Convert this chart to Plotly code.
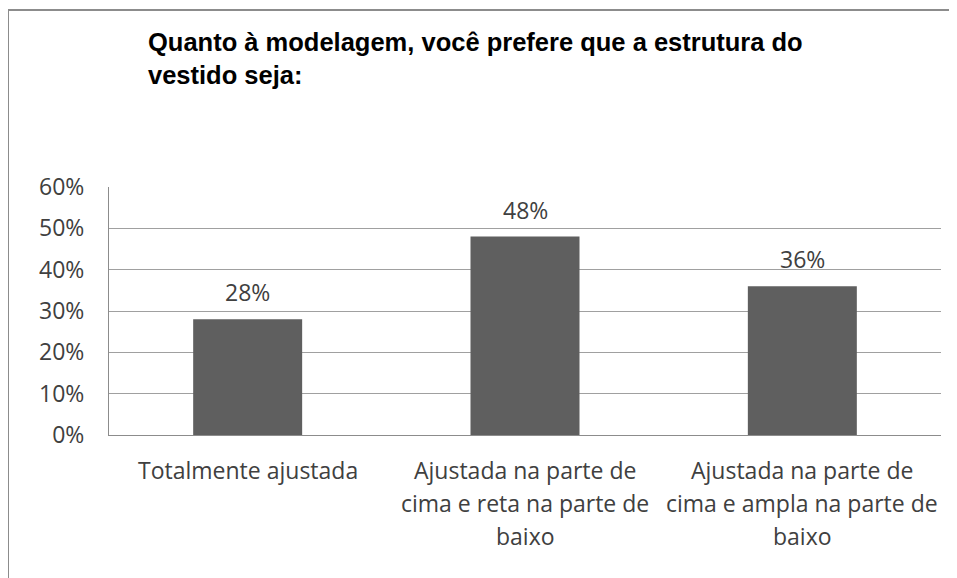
import plotly.graph_objects as go

# data
categories = ["Totalmente ajustada",
              "Ajustada na parte de cima e reta na parte de baixo",
              "Ajustada na parte de cima e ampla na parte de baixo"]
category_lines = [
    ["Totalmente ajustada"],
    ["Ajustada na parte de", "cima e reta na parte de", "baixo"],
    ["Ajustada na parte de", "cima e ampla na parte de", "baixo"],
]
values = [0.28, 0.48, 0.36]
tick_vals = [0, 0.1, 0.2, 0.3, 0.4, 0.5, 0.6]
tick_text = ["0%", "10%", "20%", "30%", "40%", "50%", "60%"]
title_text = "Quanto à modelagem, você prefere que a estrutura do<br>vestido seja:"

BAR = "#5f5f5f"
GRID = "#a0a0a0"
AXIS = "#8c8c8c"
TEXT = "#404040"
FONT = "Open Sans"

# the page body adds an 8px offset, so positions below are screen minus 8
OFF = 8
W, H = 957, 578
L, R, T, B = 109 - OFF, W - (941 - OFF), 187 - OFF, H - (435 - OFF)
pw, ph = W - L - R, H - T - B


def px_x(p):
    return (p - OFF - L) / pw


def px_y(p):
    return (H - B - (p - OFF)) / ph


fig = go.Figure(go.Bar(
    x=categories, y=values,
    marker=dict(color=BAR, line=dict(width=0)),
    width=0.393,
    hoverinfo="x+y",
))

# value labels above the bars
for c, v in zip(categories, values):
    fig.add_annotation(x=c, y=v, xref="x", yref="y", text=f"{v:.0%}",
                       showarrow=False, yanchor="bottom", yshift=9,
                       font=dict(family=FONT, size=23, color=TEXT))

# wrapped category labels, one annotation per line for Excel-like spacing
for c, lines in zip(categories, category_lines):
    for i, line in enumerate(lines):
        fig.add_annotation(x=c, y=0, xref="x", yref="paper", text=line,
                           showarrow=False, yanchor="top",
                           yshift=-(17 + 33 * i),
                           font=dict(family=FONT, size=23, color=TEXT))

# outer chart border (only top and left edges are visible in the crop)
border = dict(type="line", xref="paper", yref="paper",
              line=dict(color=AXIS, width=2))
fig.add_shape(**border, x0=px_x(8), x1=px_x(8), y0=px_y(10), y1=px_y(600))
fig.add_shape(**border, x0=px_x(8), x1=px_x(980), y0=px_y(10), y1=px_y(10))

fig.update_layout(
    width=W, height=H,
    margin=dict(l=L, r=R, t=T, b=B),
    paper_bgcolor="white", plot_bgcolor="white",
    showlegend=False,
    font=dict(family=FONT, size=23, color=TEXT),
    title=dict(text=title_text, x=(148 - OFF) / W, xanchor="left",
               xref="container", y=1 - 43 / H, yanchor="top", yref="container",
               font=dict(family="Liberation Sans", size=25.5, color="black",
                         weight="bold")),
    xaxis=dict(showgrid=False, showline=True, linecolor=AXIS, linewidth=1,
               ticks="", showticklabels=False),
    yaxis=dict(range=[0, 0.6], tickvals=tick_vals, ticktext=tick_text,
               showgrid=True, gridcolor=GRID, gridwidth=1,
               showline=True, linecolor=AXIS, linewidth=1,
               zeroline=False, ticks="", ticklabelstandoff=19,
               tickfont=dict(family=FONT, size=23, color=TEXT)),
)

fig.write_html("out.html")
